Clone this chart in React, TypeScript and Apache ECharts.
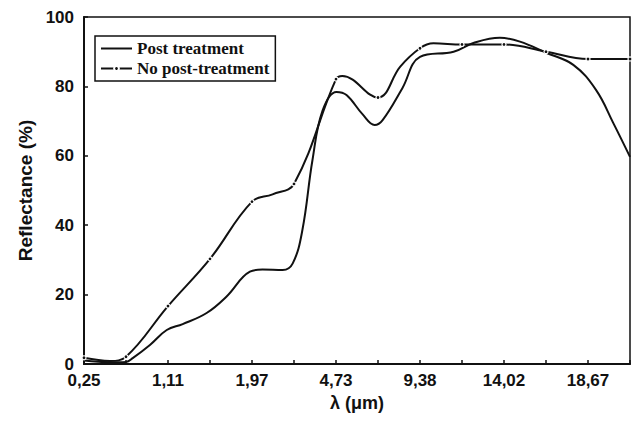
import React, { useEffect, useRef } from "react";
import * as echarts from "echarts";

// x positions are in tick-index units (0 = "0,25", 13 = right edge)
const xTickLabels = ["0,25", "", "1,11", "", "1,97", "", "4,73", "", "9,38", "", "14,02", "", "18,67", ""];
const yTicks = [0, 20, 40, 60, 80, 100];

const postX = [0, 0.62, 1.0, 1.16, 1.57, 1.97, 2.35, 2.92, 3.39, 3.95, 4.25, 4.73, 4.97, 5.2, 5.44, 5.68, 6.01, 6.25, 6.63, 6.92, 7.11, 7.58, 8.0, 8.8, 9.27, 9.9, 10.38, 11.0, 11.65, 12.19, 12.6, 13.0];
const postY = [1.0, 0.5, 0.6, 1.7, 5.5, 9.8, 11.5, 14.7, 19.4, 26.6, 27.2, 27.1, 29, 38.6, 58.8, 73, 78.4, 77.5, 72, 68.9, 70.3, 79.5, 88.5, 90, 92.5, 94, 92.9, 89.7, 86.2, 79, 69.5, 59.7];

const noPostX = [0, 0.62, 1, 2, 3, 4, 4.49, 5, 6, 6.15, 7, 7.53, 8, 8.32, 9, 10, 11, 12, 13];
const noPostY = [1.8, 0.9, 2.1, 16.7, 30.3, 46.8, 48.9, 51.9, 82.1, 83, 76.8, 85.7, 91, 92.4, 92.1, 92.1, 90, 87.9, 87.9];
const noPostMarker = [true, false, true, true, true, true, false, true, true, false, true, false, true, false, true, true, true, true, true];

export default function App() {
  const ref = useRef<HTMLDivElement>(null);
  useEffect(() => {
    const chart = echarts.init(ref.current!, null, { renderer: "svg" });
    const ink = "#111";
    const tickFont = { color: ink, fontFamily: "Liberation Sans, Arial, sans-serif", fontWeight: "bold" as const, fontSize: 17 };
    chart.setOption({
      animation: false,
      backgroundColor: "#fff",
      grid: { left: 84, right: 4, top: 17, bottom: 57, show: true, borderColor: ink, borderWidth: 1.5, backgroundColor: "transparent" },
      legend: {
        orient: "vertical",
        left: 95,
        top: 36,
        padding: [4, 6, 4, 5],
        borderColor: ink,
        borderWidth: 1.5,
        itemWidth: 31,
        itemHeight: 6,
        itemGap: 3,
        textStyle: { color: ink, fontFamily: "Liberation Serif, Times New Roman, serif", fontWeight: "bold", fontSize: 17, lineHeight: 17 },
        data: [
          { name: "Post treatment", itemStyle: { opacity: 0 } },
          { name: "No post-treatment" },
        ],
      },
      xAxis: {
        type: "value",
        min: 0,
        max: 13,
        interval: 1,
        name: "λ (μm)",
        nameLocation: "middle",
        nameGap: 28,
        nameTextStyle: { ...tickFont, fontSize: 18 },
        axisLine: { lineStyle: { color: ink, width: 2 } },
        axisTick: { inside: true, length: 4, lineStyle: { color: ink, width: 1.5 } },
        axisLabel: { ...tickFont, margin: 8, formatter: (v: number) => xTickLabels[Math.round(v)] ?? "" },
        splitLine: { show: false },
      },
      yAxis: {
        type: "value",
        min: yTicks[0],
        max: yTicks[yTicks.length - 1],
        interval: 20,
        name: "Reflectance (%)",
        nameLocation: "middle",
        nameGap: 49,
        nameTextStyle: { ...tickFont, fontSize: 19 },
        axisLine: { lineStyle: { color: ink, width: 2 } },
        axisTick: { inside: true, length: 4, lineStyle: { color: ink, width: 1.5 } },
        axisLabel: { ...tickFont, margin: 10 },
        splitLine: { show: false },
      },
      series: [
        {
          name: "Post treatment",
          type: "line",
          smooth: 0.4,
          symbol: "none",
          lineStyle: { color: ink, width: 2 },
          itemStyle: { color: ink },
          data: postX.map((x, i) => [x, postY[i]]),
        },
        {
          name: "No post-treatment",
          type: "line",
          smooth: 0.4,
          symbol: "circle",
          symbolSize: 4,
          lineStyle: { color: ink, width: 2 },
          itemStyle: { color: ink, borderColor: "#fff", borderWidth: 1.2 },
          data: noPostX.map((x, i) =>
            noPostMarker[i] ? { value: [x, noPostY[i]] } : { value: [x, noPostY[i]], symbol: "none" }
          ),
        },
      ],
    });
    return () => chart.dispose();
  }, []);
  return <div ref={ref} style={{ position: "fixed", left: 0, top: 0, width: 634, height: 421 }} />;
}
